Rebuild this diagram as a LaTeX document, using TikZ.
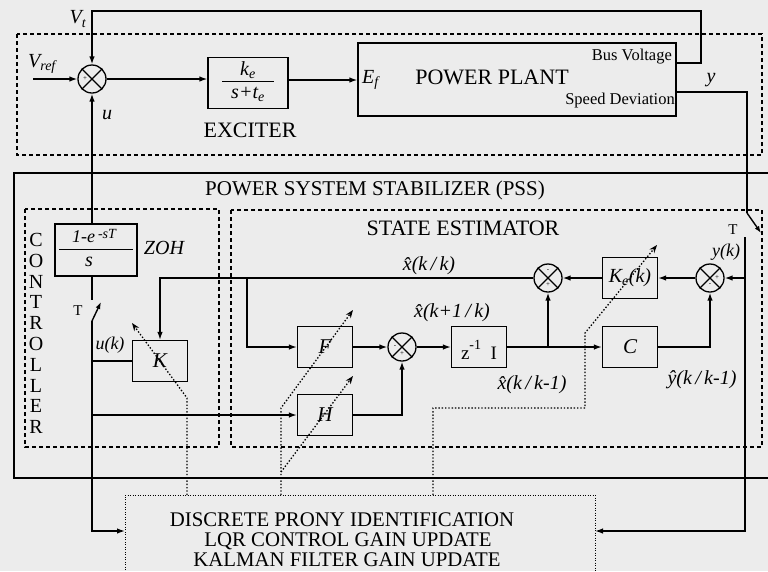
\documentclass[tikz,border=0pt]{standalone}
\usepackage{fontspec}
\setmainfont{Liberation Serif}
\usetikzlibrary{arrows.meta,calc}
\newcommand\myfs[1]{\fontsize{#1}{#1}\selectfont}
\definecolor{bg}{RGB}{236,236,236}
\begin{document}
\begin{tikzpicture}[x=1pt,y=-1pt,
  ln/.style={line width=1.4pt},
  arr/.style={ln,-{Latex[length=8pt,width=5.5pt]}},
  blk/.style={draw,line width=1.2pt,fill=bg,inner sep=0pt,minimum width=55pt,minimum height=41pt,font=\myfs{21}\itshape},
  sumc/.style={draw,line width=1.3pt,circle,fill=bg,minimum size=28pt,inner sep=0pt},
  dashbox/.style={line width=1.4pt,dash pattern=on 4pt off 3pt},
  dotl/.style={line width=1.3pt,dash pattern=on 1.4pt off 1.9pt},
  dotarr/.style={dotl,-{Stealth[length=8pt,width=6pt]}},
  lbl/.style={inner sep=0pt,font=\myfs{20}\itshape},
  ttl/.style={inner sep=0pt,font=\myfs{21}},
  sgn/.style={inner sep=0pt,font=\myfs{7}},
]
\useasboundingbox (0,0) rectangle (768,571);
\fill[bg] (0,0) rectangle (768,571);
\clip (0,0) rectangle (768,571);

% ---------- boxes ----------
\draw[dashbox] (17,34) rectangle (762,155);
\draw[line width=2.2pt] (775,173) -- (14,173) -- (14,478) -- (775,478);
\draw[dashbox] (25,209) rectangle (219,447);
\draw[dashbox] (231,210) rectangle (762,447);
\draw[line width=1pt,dash pattern=on 1pt off 1.5pt] (125,600) -- (125,495) -- (595,495) -- (595,600);

% ---------- nodes ----------
\node[sumc] (s0) at (92,79) {};
\node[draw,line width=1.2pt,fill=bg,minimum width=80pt,minimum height=51pt] (exc) at (248,83) {};
\node[draw,line width=1.2pt,fill=bg,minimum width=318pt,minimum height=73pt] (plant) at (517,79.5) {};
\node[draw,line width=1.2pt,fill=bg,minimum width=82pt,minimum height=52pt] (zoh) at (96,250) {};
\node[blk] (K) at (160,361) {K};
\node[blk] (F) at (325,347) {F};
\node[blk] (H) at (325,415) {H};
\node[blk] (z) at (479,347) {};
\node[blk] (C) at (630,347) {C};
\node[blk,font=\myfs{20}\itshape] (Ke) at (630,278) {K\textsubscript{e}(k)};
\node[sumc] (s1) at (548,278) {};
\node[sumc] (s2) at (402,347) {};
\node[sumc] (s3) at (710,278) {};

\foreach \s in {s0,s1,s2,s3}{
  \draw[line width=1.2pt] (\s.north east) -- (\s.south west) (\s.north west) -- (\s.south east);
}
\node[sgn] at ($(s0)+(-7,0)$) {+};
\node[sgn] at ($(s2)+(-7,0)$) {-};
\node[sgn] at ($(s2)+(0,7)$) {+};
\node[sgn] at ($(s1)+(0,-7)$) {-};
\node[sgn] at ($(s1)+(0,7)$) {+};
\node[sgn] at ($(s3)+(7,0)$) {+};
\node[sgn] at ($(s3)+(0,7)$) {-};

% ---------- block contents ----------
\node[lbl] (exnum) at (248,70) {k\textsubscript{e}};
\draw[line width=1pt] (222,81) -- (274,81);
\node[lbl] (exden) at (248,94) {s+t\textsubscript{e}};
\node[lbl,font=\myfs{18}\itshape] (zohnum) at (94,236) {1-e\,\raisebox{0.5ex}{\myfs{14}-sT}};
\draw[line width=1pt] (59,249) -- (133,249);
\node[lbl] (zohden) at (89,262) {s};
\node[lbl,font=\myfs{19}] (zt) at (479,350) {z\raisebox{1.1ex}{\myfs{14}-1}\,\,\,I};

\node[ttl,font=\myfs{22}] (pp) at (492,77) {POWER PLANT};
\node[inner sep=0pt,font=\myfs{16.5},anchor=east] (bvl) at (672,57) {Bus Voltage};
\node[inner sep=0pt,font=\myfs{16.5},anchor=east] (sdl) at (675,101) {Speed Deviation};
\node[lbl,font=\myfs{20}\itshape,anchor=west] (efl) at (362,80) {E\textsubscript{f}};
\node[ttl,font=\myfs{22}] (excl) at (250,130) {EXCITER};
\node[ttl] (pssl) at (375,190) {POWER SYSTEM STABILIZER (PSS)};
\node[ttl,font=\myfs{22}] (sel) at (463,228) {STATE ESTIMATOR};
\foreach \L [count=\i from 0] in {C,O,N,T,R,O,L,L,E,R}{
  \node[inner sep=0pt,font=\myfs{20}] at (36,{240+\i*20.8}) {\L};
}
\node[lbl] (zohl) at (164,248) {ZOH};
\node[inner sep=0pt,font=\myfs{20.8}] (bt1) at (342,520) {DISCRETE PRONY IDENTIFICATION};
\node[inner sep=0pt,font=\myfs{20.8}] (bt2) at (348,541) {LQR CONTROL GAIN UPDATE};
\node[inner sep=0pt,font=\myfs{20.8}] (bt3) at (347,560) {KALMAN FILTER GAIN UPDATE};

% ---------- labels ----------
\node[lbl] at (78,19) {V\textsubscript{t}};
\node[lbl] at (42,64) {V\textsubscript{ref}};
\node[lbl] at (107,115) {u};
\node[lbl] at (711,80) {y};
\node[lbl] at (429,266) {\^x(k\,/\,k)};
\node[lbl] at (452,313) {\^x(k+1\,/\,k)};
\node[lbl] at (532,385) {\^x(k\,/\,k-1)};
\node[lbl] at (702,380) {\^y(k\,/\,k-1)};
\node[lbl,font=\myfs{18}\itshape] at (110,345) {u(k)};
\node[lbl,font=\myfs{18}\itshape] at (726,252) {y(k)};
\node[inner sep=0pt,font=\myfs{15}] at (78,311) {T};
\node[inner sep=0pt,font=\myfs{15}] at (733,230) {T};

% ---------- coordinates ----------
\coordinate (bv) at (676,63);
\coordinate (vt1) at (701,63);
\coordinate (vt2) at (701,11);
\coordinate (vin) at (33,79);
\coordinate (yo) at (676,92);
\coordinate (y1) at (747,92);
\coordinate (y2) at (747,213);
\coordinate (y3) at (745,237);
\coordinate (y4) at (745,531);
\coordinate (sw1) at (92,300);
\coordinate (sw2) at (92,321);
\coordinate (c1) at (92,531);
\coordinate (kj) at (92,361);
\coordinate (xk) at (160,278);
\coordinate (fj) at (247,278);
\coordinate (zj) at (548,347);

% ---------- connectors ----------
\draw[arr] (bv) -- (vt1) -- (vt2) -| (s0.north);
\draw[arr] (vin) -- (s0.west);
\draw[arr] (s0.east) -- (exc.west |- s0);
\draw[arr] (exc.east |- 0,80) -- (plant.west |- 0,80);
\draw[arr] (zoh.north -| s0) -- (s0.south);
\draw[ln] (zoh.south -| s0) -- (sw1);
\draw[ln,-{Latex[length=7pt,width=5pt]}] (sw2) -- (101,302);
\draw[arr] (sw2) -- (c1) -- (c1 -| 125,0);
\draw[ln] (K.west) -- (kj);
\draw[arr] (H.west -| kj) -- (H.west);
\draw[arr] (s1.west) -- (xk) -- (K.north);
\draw[arr] (fj) |- (F.west);
\draw[arr] (F.east) -- (s2.west);
\draw[arr] (H.east) -| (s2.south);
\draw[arr] (s2.east) -- (z.west);
\draw[arr] (z.east) -- (C.west);
\draw[arr] (zj) -- (s1.south);
\draw[arr] (C.east) -| (s3.south);
\draw[arr] (s3.west) -- (Ke.east);
\draw[arr] (Ke.west) -- (s1.east);
\draw[ln] (yo) -- (y1) -- (y2);
\draw[ln,-{Latex[length=7pt,width=5pt]}] (y2) -- (761,233);
\draw[arr] (y3) -- (y4) -- (y4 -| 595,0);
\draw[arr] (y3 |- s3) -- (s3.east);

% ---------- gain update (dotted) ----------
\draw[dotarr] (187,495) -- (187,398) -- (132,323);
\draw[dotarr] (281,495) -- (281,408) -- (353,310);
\draw[dotarr] (281,472) -- (353,376);
\draw[dotarr] (433,495) -- (433,408) -- (585,408) -- (585,333) -- (657,245);
\end{tikzpicture}
\end{document}
